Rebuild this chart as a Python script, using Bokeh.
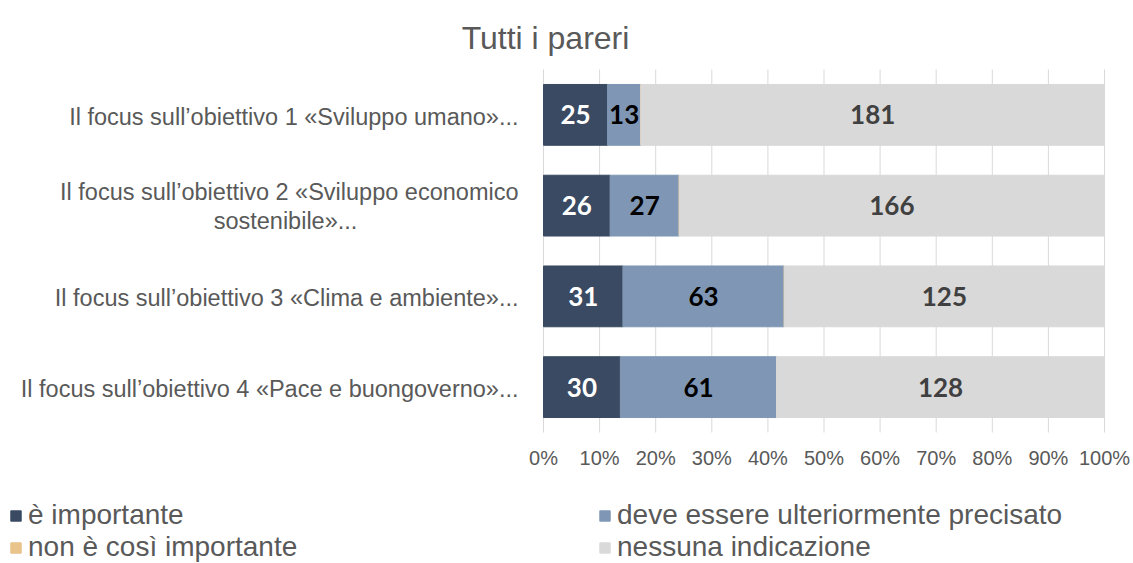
from bokeh.plotting import figure
from bokeh.models import (ColumnDataSource, Range1d, FixedTicker, Legend, LegendItem)
from bokeh.core.properties import value
from bokeh.embed import file_html
from bokeh.resources import INLINE

# ---------------- data ----------------
title_text = "Tutti i pareri"
categories = [
    "Il focus sull’obiettivo 1 «Sviluppo umano»...",
    "Il focus sull’obiettivo 2 «Sviluppo economico sostenibile»...",
    "Il focus sull’obiettivo 3 «Clima e ambiente»...",
    "Il focus sull’obiettivo 4 «Pace e buongoverno»...",
]
# how each category label is wrapped on the chart
category_lines = [
    ["Il focus sull’obiettivo 1 «Sviluppo umano»..."],
    ["Il focus sull’obiettivo 2 «Sviluppo economico", "sostenibile»..."],
    ["Il focus sull’obiettivo 3 «Clima e ambiente»..."],
    ["Il focus sull’obiettivo 4 «Pace e buongoverno»..."],
]
series_names = ["è importante", "deve essere ulteriormente precisato",
                "non è così importante", "nessuna indicazione"]
importante = [25, 26, 31, 30]
precisato = [13, 27, 63, 61]
non_importante = [0, 0, 0, 0]
nessuna = [181, 166, 125, 128]
x_ticks = [0, 10, 20, 30, 40, 50, 60, 70, 80, 90, 100]
x_tick_labels = ["0%", "10%", "20%", "30%", "40%", "50%", "60%", "70%", "80%", "90%", "100%"]

colors = ["#394A62", "#7F97B4", "#E8C38A", "#D9D9D9"]
label_colors = ["#FFFFFF", "#000000", "#000000", "#404040"]
counts = [importante, precisato, non_importante, nessuna]

# ---------------- layout constants (pixels in the canvas) ----------------
W, H = 1133, 563
zero_px, hundred_px = 543, 1104          # where 0% and 100% sit
bars_top_px, bars_bottom_px = 69, 432    # vertical extent of the category band
n = len(categories)
px_x = (hundred_px - zero_px) / 100.0
px_y = (bars_bottom_px - bars_top_px) / n
x_start = -zero_px / px_x
x_end = 100 + (W - hundred_px) / px_x
y_end = n + bars_top_px / px_y
y_start = -(H - bars_bottom_px) / px_y

# ---------------- build source (percentages) ----------------
totals = [sum(c[i] for c in counts) for i in range(n)]
keys = ["s0", "s1", "s2", "s3"]
y_pos = [n - 0.5 - i for i in range(n)]          # category slots, first on top
data = {"cat": categories, "y": y_pos}
for k, c in zip(keys, counts):
    data[k] = [v / t * 100 for v, t in zip(c, totals)]
source = ColumnDataSource(data)

p = figure(width=W, height=H,
           x_range=Range1d(x_start, x_end), y_range=Range1d(y_start, y_end),
           output_backend="svg", toolbar_location=None,
           min_border_left=0, min_border_right=0, min_border_top=0, min_border_bottom=0)
p.outline_line_color = None
p.background_fill_color = "white"
p.border_fill_color = "white"
p.xgrid.visible = False
p.ygrid.visible = False
p.yaxis.visible = False

# vertical grid lines over the category band
p.segment(x0=x_ticks, y0=[0] * len(x_ticks), x1=x_ticks, y1=[n] * len(x_ticks),
          line_color="#D9D9D9", line_width=1)

renderers = p.hbar_stack(keys, y="y", height=0.67, color=colors, source=source)

# data labels
for si, (k, c) in enumerate(zip(keys, counts)):
    xs, ys, txt = [], [], []
    for i in range(n):
        if c[i] == 0:
            continue
        left = sum(data[keys[j]][i] for j in range(si))
        xs.append(left + data[k][i] / 2)
        ys.append(y_pos[i])
        txt.append(str(c[i]))
    if xs:
        p.text(x=xs, y=ys, text=txt, text_align="center", text_baseline="middle",
               text_font=value("Lato"), text_font_style="bold",
               text_font_size="26px", text_color=label_colors[si])

# category labels (left of the 0% line)
cat_font = dict(text_font=value("Liberation Sans"), text_font_size="23.5px",
                text_color="#595959", text_baseline="middle")
for yy, lines in zip(y_pos, category_lines):
    if len(lines) == 1:
        p.text(x=[0], y=[yy], text=[lines[0]], text_align="right",
               x_offset=-25, y_offset=2, **cat_font)
    else:
        p.text(x=[0], y=[yy], text=[lines[0]], text_align="right",
               x_offset=-25, y_offset=-14, **cat_font)
        p.text(x=[0], y=[yy], text=[lines[1]], text_align="center",
               x_offset=-258, y_offset=15, **cat_font)

# x axis drawn at the bottom of the category band
p.xaxis.fixed_location = 0
p.xaxis.ticker = FixedTicker(ticks=x_ticks)
p.xaxis.major_label_overrides = {t: l for t, l in zip(x_ticks, x_tick_labels)}
p.xaxis.axis_line_color = None
p.xaxis.major_tick_line_color = None
p.xaxis.minor_tick_line_color = None
p.xaxis.major_label_standoff = 8
p.xaxis.major_label_text_font = "Liberation Sans"
p.xaxis.major_label_text_font_size = "20px"
p.xaxis.major_label_text_color = "#595959"

# title
p.text(x=[(545 - zero_px) / px_x], y=[n + (bars_top_px - 37) / px_y], text=[title_text],
       text_align="center", text_baseline="alphabetic",
       text_font=value("Liberation Sans"), text_font_size="32px", text_color="#595959")

# legend
items = [LegendItem(label=nm, renderers=[r]) for nm, r in zip(series_names, renderers)]
legend = Legend(items=items, location=(9, 0), orientation="horizontal", ncols=2,
                glyph_width=13, glyph_height=13, label_standoff=6,
                label_width=570, label_height=30, spacing=0, padding=0, margin=0,
                label_text_font="Liberation Sans", label_text_font_size="28px",
                label_text_color="#595959", border_line_color=None,
                background_fill_alpha=0)
p.add_layout(legend)

open("out.html", "w").write(file_html(p, INLINE))
